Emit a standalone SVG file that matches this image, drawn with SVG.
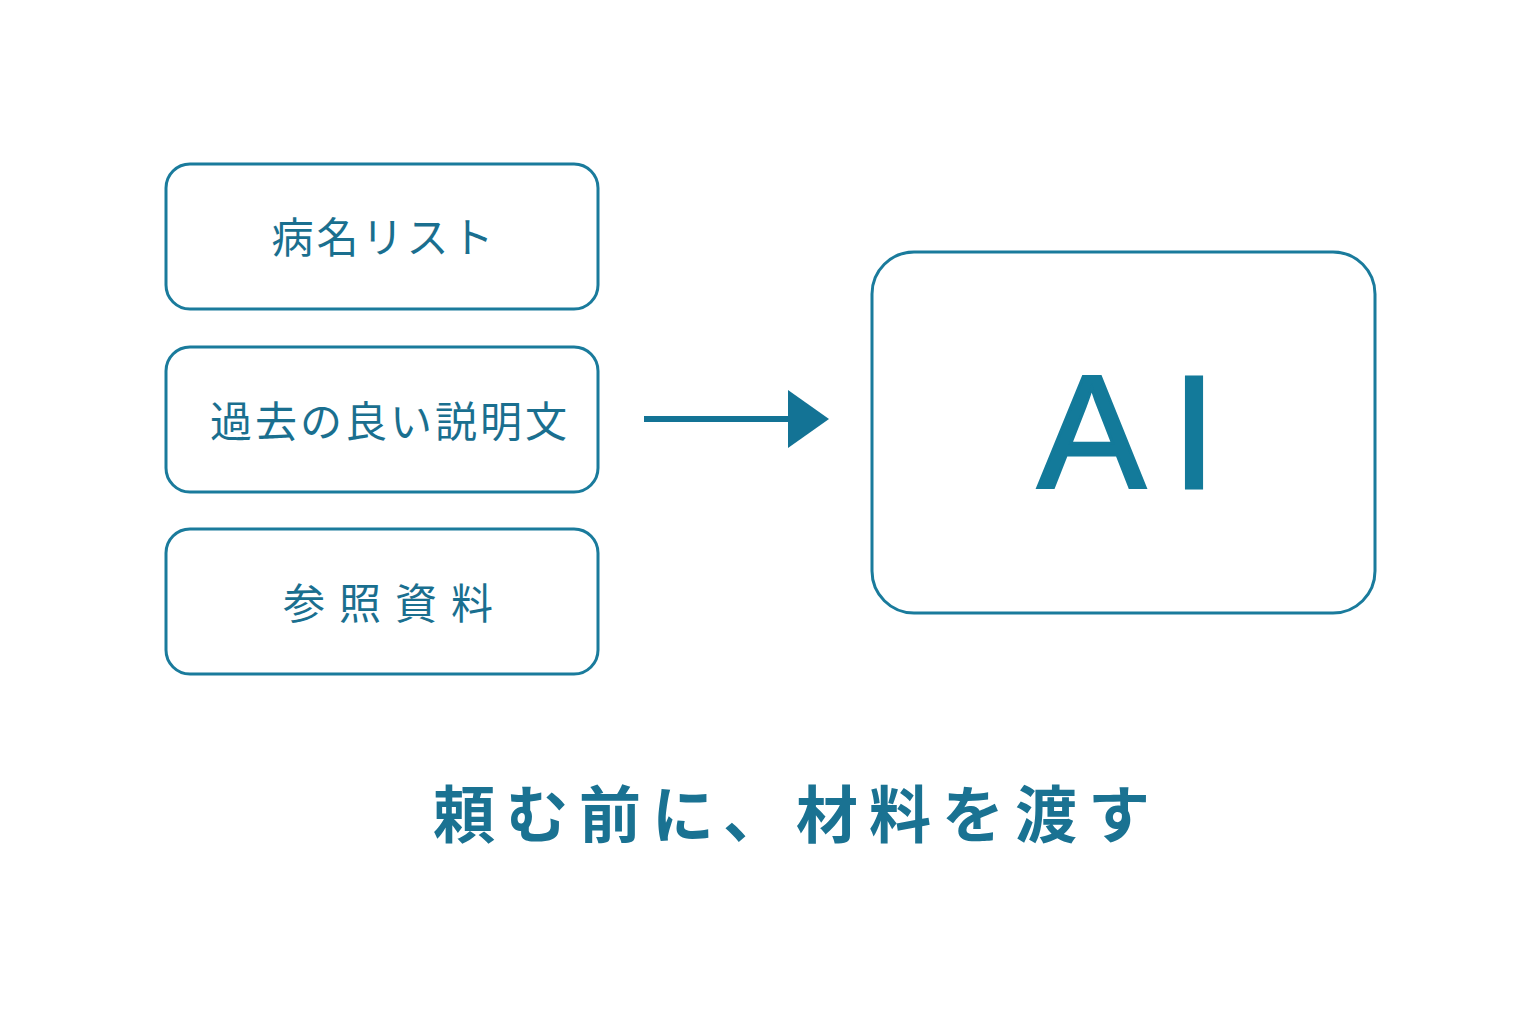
<svg xmlns="http://www.w3.org/2000/svg" width="1536" height="1024" viewBox="0 0 1536 1024">
<style>
.box{fill:#fff;stroke:#1a7b9c;stroke-width:3}
.lbl{font-family:"Noto Sans CJK JP",sans-serif;font-size:42px;fill:#1a6f8f;text-anchor:middle;letter-spacing:3px}
</style>
<rect width="1536" height="1024" fill="#fff"/>
<g id="n1"><rect class="box" x="166" y="164" width="432" height="145" rx="24"/><text class="lbl" x="384" y="253">病名リスト</text></g>
<g id="n2"><rect class="box" x="166" y="347" width="432" height="145" rx="24"/><text class="lbl" x="390" y="437">過去の良い説明文</text></g>
<g id="n3"><rect class="box" x="166" y="529" width="432" height="145" rx="24"/><text class="lbl" x="395" y="619" style="letter-spacing:14px">参照資料</text></g>
<g id="ai"><rect class="box" x="872" y="252" width="503" height="361" rx="42"/><text x="1140" y="488" font-family="'Liberation Sans', sans-serif" font-size="162" fill="#137a9a" stroke="#137a9a" stroke-width="3" text-anchor="middle" letter-spacing="26">AI</text></g>
<g id="connectors"><line x1="644" y1="419" x2="792" y2="419" stroke="#137395" stroke-width="6"/><polygon points="788,390 829,419 788,448" fill="#137395"/></g>
<text id="title" x="797" y="838" font-family="'Noto Sans CJK JP', sans-serif" font-size="62" font-weight="700" fill="#1a7292" text-anchor="middle" letter-spacing="11">頼む前に、材料を渡す</text>
</svg>
